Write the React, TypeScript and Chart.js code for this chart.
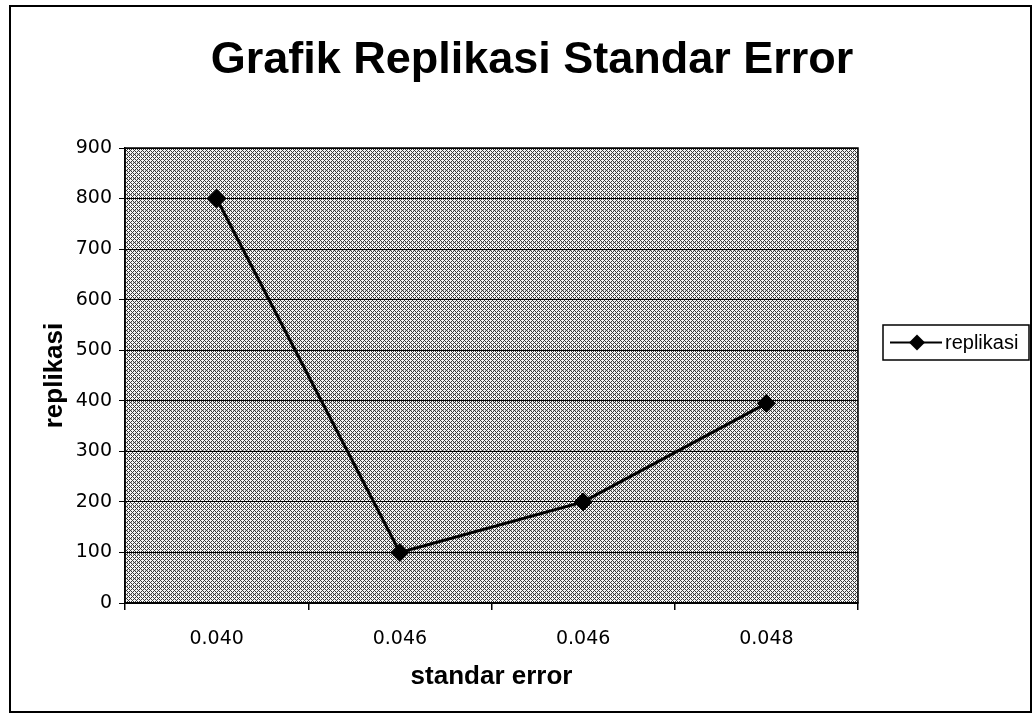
import React, { useEffect, useRef } from 'react';
import { Chart, registerables } from 'chart.js';

Chart.register(...registerables);

// ---- data ----
const TITLE = 'Grafik Replikasi Standar Error';
const categories = ['0.040', '0.046', '0.046', '0.048'];
const replikasi = [800, 100, 200, 395];
const SERIES_LABEL = 'replikasi';
const X_TITLE = 'standar error';
const Y_TITLE = 'replikasi';
const Y_MIN = 0;
const Y_MAX = 900;
const Y_STEP = 100;

function makePattern(ctx: CanvasRenderingContext2D): CanvasPattern | string {
  const c = document.createElement('canvas');
  c.width = 8;
  c.height = 8;
  const p = c.getContext('2d');
  if (!p) return '#b0b0b0';
  p.fillStyle = '#f6f6f6';
  p.fillRect(0, 0, 8, 8);
  p.fillStyle = '#3a3a3a';
  for (let y = 0; y < 8; y++) {
    for (let x = 0; x < 8; x++) {
      if ((x + y) % 4 === 0 || (((x - y) % 4) + 4) % 4 === 0) p.fillRect(x, y, 1, 1);
    }
  }
  p.fillStyle = '#b4b4b4';
  for (let x = 0; x < 8; x += 2) p.fillRect(x + 1, 2, 1, 1);
  return ctx.createPattern(c, 'repeat') || '#b0b0b0';
}

const FONT_FAMILY = '"Liberation Sans", Arial, sans-serif';
const TICK_FAMILY = '"DejaVu Sans", "Liberation Sans", sans-serif';

export default function App() {
  const ref = useRef<HTMLCanvasElement | null>(null);

  useEffect(() => {
    const canvas = ref.current;
    if (!canvas) return;
    const ctx0 = canvas.getContext('2d');
    if (!ctx0) return;
    const pattern = makePattern(ctx0);

    const decor = {
      id: 'decor',
      beforeDraw(chart: any) {
        const { ctx, chartArea } = chart;
        ctx.save();
        ctx.fillStyle = '#ffffff';
        ctx.fillRect(0, 0, chart.width, chart.height);
        ctx.fillStyle = pattern;
        ctx.fillRect(chartArea.left, chartArea.top, chartArea.right - chartArea.left, chartArea.bottom - chartArea.top);
        ctx.restore();
      },
      afterDraw(chart: any) {
        const { ctx, chartArea } = chart;
        ctx.save();
        // plot frame
        ctx.strokeStyle = '#000';
        ctx.lineWidth = 1.5;
        ctx.strokeRect(chartArea.left, chartArea.top, chartArea.right - chartArea.left, chartArea.bottom - chartArea.top);
        // outer frame
        ctx.lineWidth = 2;
        ctx.strokeRect(10, 6, 1021, 706);
        // title
        ctx.fillStyle = '#000';
        ctx.font = `bold 45px ${FONT_FAMILY}`;
        ctx.textAlign = 'center';
        ctx.textBaseline = 'middle';
        ctx.fillText(TITLE, 532, 61);
        // legend
        const ds = chart.data.datasets[0];
        const bx = 883, by = 325, bw = 146, bh = 35;
        ctx.fillStyle = '#fff';
        ctx.fillRect(bx, by, bw, bh);
        ctx.lineWidth = 1.5;
        ctx.strokeStyle = '#000';
        ctx.strokeRect(bx, by, bw, bh);
        const cy = by + bh / 2;
        ctx.lineWidth = 2;
        ctx.beginPath();
        ctx.moveTo(890, cy);
        ctx.lineTo(942, cy);
        ctx.stroke();
        ctx.fillStyle = '#000';
        ctx.beginPath();
        ctx.moveTo(917, cy - 8);
        ctx.lineTo(925, cy);
        ctx.lineTo(917, cy + 8);
        ctx.lineTo(909, cy);
        ctx.closePath();
        ctx.fill();
        ctx.font = `20px ${FONT_FAMILY}`;
        ctx.textAlign = 'left';
        ctx.fillText(ds.label, 945, cy + 1);
        ctx.restore();
      },
    };

    const chart = new Chart(canvas, {
      type: 'line',
      data: {
        labels: categories,
        datasets: [
          {
            label: SERIES_LABEL,
            data: replikasi,
            borderColor: '#000',
            backgroundColor: '#000',
            borderWidth: 3,
            pointStyle: 'rectRot',
            pointRadius: 9,
            pointBackgroundColor: '#000',
            pointBorderColor: '#000',
            pointBorderWidth: 1,
            tension: 0,
            fill: false,
          },
        ],
      },
      options: {
        responsive: false,
        animation: false,
        devicePixelRatio: 1,
        layout: { padding: { top: 148, right: 176, bottom: 0, left: 0 } },
        plugins: {
          legend: { display: false },
          title: { display: false },
          tooltip: { enabled: false },
        },
        scales: {
          x: {
            type: 'category',
            offset: true,
            afterFit(scale: any) {
              scale.height = 112;
            },
            grid: {
              display: true,
              drawOnChartArea: false,
              drawTicks: true,
              offset: true,
              tickLength: 7,
              color: '#000',
              lineWidth: 1.5,
            },
            border: { display: true, color: '#000', width: 1.5 },
            ticks: {
              color: '#000',
              padding: 18,
              maxRotation: 0,
              font: { family: TICK_FAMILY, size: 19 },
            },
            title: {
              display: true,
              text: X_TITLE,
              color: '#000',
              font: { family: FONT_FAMILY, size: 26, weight: 'bold' },
              padding: { top: 0, bottom: 23 },
            },
          },
          y: {
            min: Y_MIN,
            max: Y_MAX,
            afterFit(scale: any) {
              scale.width = 125;
            },
            grid: {
              color: '#000',
              lineWidth: 1,
              drawTicks: true,
              tickLength: 6,
            },
            border: { display: true, color: '#000', width: 1.5 },
            ticks: {
              stepSize: Y_STEP,
              color: '#000',
              padding: 7,
              font: { family: TICK_FAMILY, size: 19 },
            },
            title: {
              display: true,
              text: Y_TITLE,
              color: '#000',
              font: { family: FONT_FAMILY, size: 26, weight: 'bold' },
              padding: { top: 39, bottom: 0 },
            },
          },
        },
      },
      plugins: [decor],
    });

    return () => {
      chart.destroy();
    };
  }, []);

  return (
    <div style={{ position: 'fixed', left: 0, top: 0, width: 1034, height: 715, background: '#fff' }}>
      <canvas ref={ref} width={1034} height={715} style={{ display: 'block', width: 1034, height: 715 }} />
    </div>
  );
}
